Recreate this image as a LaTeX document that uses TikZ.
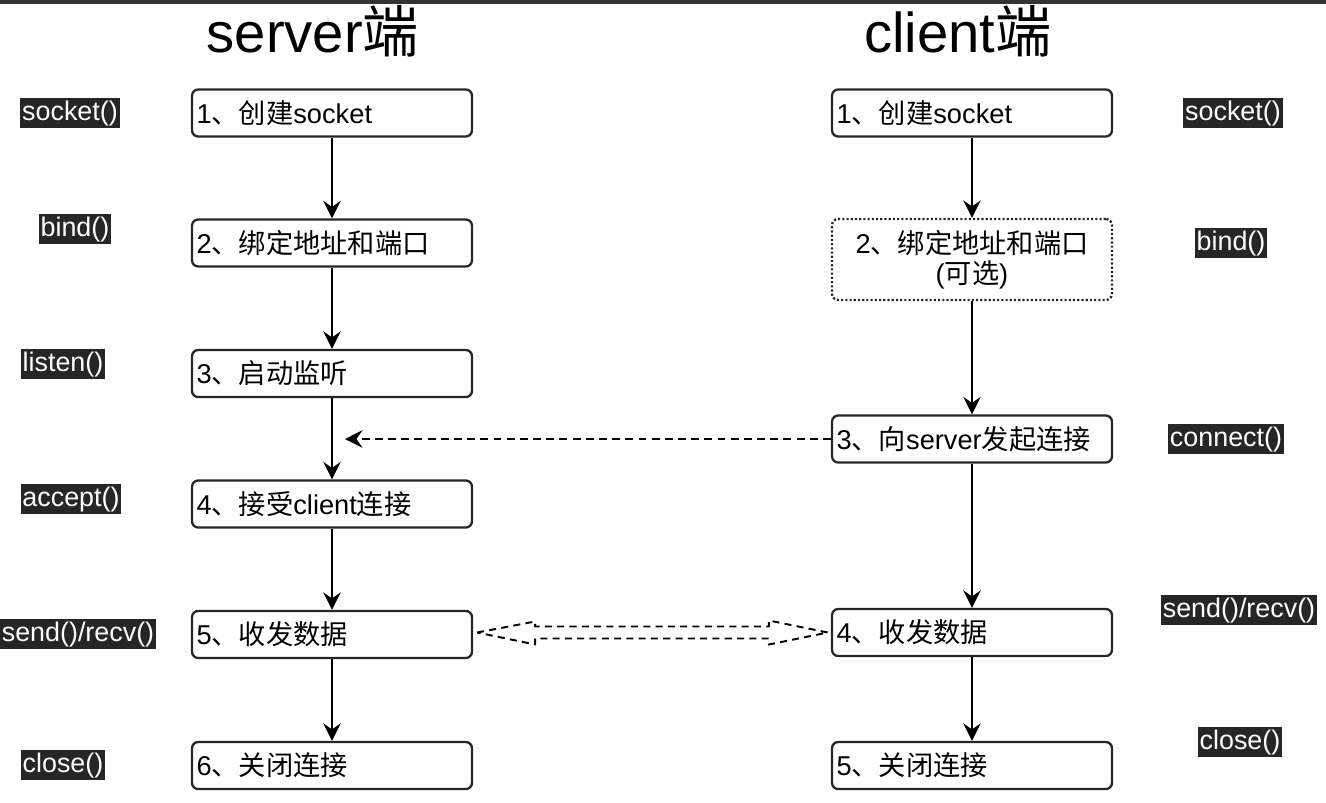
\documentclass[tikz,border=0pt]{standalone}
\usepackage{fontspec}
\setmainfont{Liberation Sans}
\newfontfamily\cjk{Noto Sans CJK SC}
\usepackage{tikz}
\usetikzlibrary{arrows.meta,calc}
\newcommand{\zh}[1]{{\cjk #1}}

\tikzset{
  stepbox/.style={draw=black!85, line width=1.3pt, rounded corners=3.5pt,
    minimum height=0.94cm, text width=5.42cm, inner xsep=0.09cm, align=left,
    font=\fontsize{15.5}{17}\selectfont},
  optbox/.style={stepbox, dash pattern=on 1.2pt off 1.2pt, align=center, minimum height=1.62cm},
  api/.style={fill=black!85, text=white, inner xsep=1pt, inner ysep=1.3pt,
    text height=11.5pt, text depth=3.5pt, font=\fontsize{15.3}{17}\selectfont},
  title/.style={anchor=base, font=\fontsize{32}{36}\selectfont},
  flow/.style={line width=1.1pt, -{Stealth[length=10pt,width=10pt,inset=3.5pt]}},
  conn/.style={flow, dash pattern=on 4.5pt off 3pt},
  dbl/.style={line width=1.1pt, dash pattern=on 4pt off 3pt, line join=round}
}

\begin{document}
\begin{tikzpicture}[x=0.02cm, y=-0.02cm]
  \useasboundingbox (0,0) rectangle (1326,802);
  % Top edge
  \fill[black!80] (0,0) rectangle (1326,4);

  % Columns
  \def\xs{332}
  \def\xc{972}

  % Titles
  \node[title] (ts) at (313,52) {server\zh{端}};
  \node[title] (tc) at (958,52) {client\zh{端}};

  % Server steps
  \node[stepbox] (s1) at (\xs,113)   {1\zh{、创建}socket};
  \node[stepbox] (s2) at (\xs,243)   {2\zh{、绑定地址和端口}};
  \node[stepbox] (s3) at (\xs,373.5) {3\zh{、启动监听}};
  \node[stepbox] (s4) at (\xs,504)   {4\zh{、接受}client\zh{连接}};
  \node[stepbox] (s5) at (\xs,634.5) {5\zh{、收发数据}};
  \node[stepbox] (s6) at (\xs,765.5) {6\zh{、关闭连接}};

  % Client steps
  \node[stepbox] (c1) at (\xc,113)   {1\zh{、创建}socket};
  \node[optbox]  (c2) at (\xc,259.5) {2\zh{、绑定地址和端口}\\(\zh{可选})};
  \node[stepbox] (c3) at (\xc,439)   {3\zh{、向}server\zh{发起连接}};
  \node[stepbox] (c4) at (\xc,632.5) {4\zh{、收发数据}};
  \node[stepbox] (c5) at (\xc,765.5) {5\zh{、关闭连接}};

  % Server calls
  \node[api] (as1) at (70,113)  {socket()};
  \node[api] (as2) at (75,229)  {bind()};
  \node[api] (as3) at (63,364)  {listen()};
  \node[api] (as4) at (71,499)  {accept()};
  \node[api] (as5) at (78,634)  {send()/recv()};
  \node[api] (as6) at (63,765)  {close()};

  % Client calls
  \node[api] (ac1) at (1233,113) {socket()};
  \node[api] (ac2) at (1231,243) {bind()};
  \node[api] (ac3) at (1226,439) {connect()};
  \node[api] (ac4) at (1239,610) {send()/recv()};
  \node[api] (ac5) at (1240,742) {close()};

  % Flow arrows
  \foreach \a/\b in {s1/s2, s2/s3, s3/s4, s4/s5, s5/s6, c1/c2, c2/c3, c3/c4, c4/c5}
    \draw[flow] (\a.south) -- (\b.north);

  % Connect request
  \coordinate (hit) at (\xs+13,439);
  \draw[conn] (c3.west) -- (hit);

  % Data exchange
  \coordinate (lt) at ($(s5.east)+(4,-2)$);
  \coordinate (rt) at ($(c4.west)+(-3,0)$);
  \draw[dbl] (lt) -- ++(58,-11) -- ++(0,5) -- ($(rt)+(-59,-6)$) -- ++(0,-6) -- (rt)
    -- ++(-59,12) -- ++(0,-6) -- ($(lt)+(58,6)$) -- ++(0,6) -- cycle;

\end{tikzpicture}
\end{document}
